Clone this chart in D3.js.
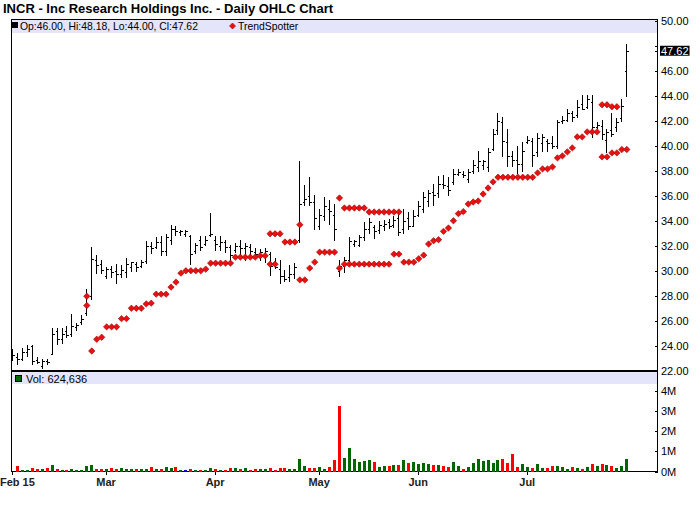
<!DOCTYPE html>
<html><head><meta charset="utf-8">
<script src="https://cdn.jsdelivr.net/npm/d3@7"></script>
<style>
body{margin:0;background:#fff;}
svg text{font-family:"Liberation Sans",Arial,Helvetica,sans-serif;}
</style></head>
<body><svg id="c" width="700" height="512"></svg>
<script>
// ---------- data ----------
const monthLabels = ["Feb 15","Mar","Apr","May","Jun","Jul"];
const monthIndex  = [0,19,41,62,82,104];
const priceTicks  = [22,24,26,28,30,32,34,36,38,40,42,44,46,48,50];
const volTicks    = [0,1,2,3,4];
const volTickLabels = ["0M","1M","2M","3M","4M"];

const opens = [23.36,23.10,23.00,23.50,24.00,22.90,22.40,22.80,23.40,25.20,
24.60,25.20,25.00,25.50,25.90,26.60,28.00,30.90,30.60,29.60,
30.20,30.00,29.80,29.90,30.30,30.60,30.40,30.80,32.00,31.90,
32.30,31.60,32.50,33.40,33.10,33.00,32.80,31.60,32.50,32.20,
32.90,32.50,32.00,32.30,31.90,31.70,32.00,31.80,31.90,31.50,
31.30,31.30,31.40,30.60,30.20,29.60,29.50,29.80,32.50,35.50,
36.00,35.50,33.60,34.40,35.00,34.50,30.00,30.40,30.90,32.20,
32.10,32.70,33.40,33.50,33.30,33.60,33.90,33.70,34.20,33.40,
34.20,33.60,34.50,35.00,35.60,36.30,36.20,37.00,36.80,37.10,
37.80,37.80,37.40,38.00,38.30,38.50,38.30,39.80,41.30,41.90,
40.30,39.20,38.90,38.60,40.30,40.40,39.50,40.20,40.40,40.20,
40.00,42.00,42.10,42.60,42.50,43.40,43.10,43.50,41.50,41.60,
40.50,41.30,41.50,42.20,46.00];
const highs = [23.74,23.42,23.82,24.08,24.08,23.10,22.93,23.00,25.42,25.42,
25.42,25.61,26.57,25.87,26.49,28.55,31.91,31.30,30.90,30.36,
30.42,30.58,30.50,31.03,30.76,30.76,30.90,32.37,32.29,32.71,
32.77,32.98,33.70,33.57,33.25,33.25,32.90,32.23,32.77,32.77,
34.64,32.77,32.82,32.50,32.10,32.24,32.45,32.24,32.16,31.84,
31.76,31.80,31.50,31.03,30.90,30.10,30.50,30.68,38.83,36.90,
37.50,36.10,34.96,35.90,35.65,35.39,30.90,31.10,32.72,32.45,
32.90,33.88,34.24,33.70,33.97,34.05,34.16,34.42,34.85,34.96,
34.69,34.85,35.57,36.30,36.50,36.99,37.57,37.71,37.53,38.19,
38.17,37.98,38.17,38.86,39.64,38.86,39.85,41.37,42.60,42.34,
41.37,39.58,39.98,40.30,40.78,40.65,41.05,40.92,40.52,40.78,
42.12,42.44,42.98,42.79,43.67,44.12,44.12,44.12,41.90,42.12,
41.32,42.60,42.26,43.78,48.18];
const lows = [22.88,22.53,22.88,23.20,22.53,22.62,22.21,22.56,23.36,24.16,
24.27,24.75,24.80,25.29,25.74,26.49,27.74,29.83,29.88,29.43,
29.56,29.08,29.56,29.51,30.04,30.04,30.36,30.63,31.43,31.83,
31.30,31.30,32.18,32.90,32.90,32.82,30.55,31.43,31.70,32.10,
32.77,31.70,31.70,31.56,30.76,31.56,31.30,30.90,31.16,31.03,
30.90,30.76,29.70,30.23,29.08,29.20,29.20,29.43,32.36,35.30,
35.30,33.36,33.36,34.10,33.78,32.50,29.62,29.96,30.50,31.96,
31.96,32.50,33.08,32.63,33.08,33.30,33.44,33.52,32.90,33.04,
33.36,33.57,34.42,34.69,35.23,35.27,35.92,36.65,36.05,36.99,
37.71,37.53,37.09,37.85,37.98,38.17,37.98,39.66,40.92,39.23,
38.43,38.38,37.85,37.98,40.20,38.43,39.18,39.58,39.58,39.85,
39.85,41.86,41.98,41.98,42.34,42.92,43.06,40.73,41.45,40.52,
39.50,40.78,41.18,41.98,44.00];
const closes = [23.28,22.95,23.50,23.80,22.80,22.75,22.80,22.70,25.00,24.60,
25.00,24.90,25.60,25.70,26.20,28.00,31.00,30.50,30.10,30.20,
29.90,29.80,30.10,30.60,30.70,30.30,30.70,32.00,31.80,32.30,
31.60,32.70,33.40,33.20,33.22,33.22,31.40,32.10,31.90,32.50,
33.00,32.20,32.30,31.90,31.30,32.00,31.80,32.00,31.60,31.40,
31.50,31.60,30.40,30.30,29.60,29.40,29.80,30.30,35.40,35.80,
35.50,34.20,34.50,35.20,34.80,33.40,30.40,30.90,32.40,32.42,
32.70,33.40,33.90,33.20,33.70,33.80,33.60,34.10,33.10,34.00,
33.60,34.40,35.20,35.90,36.20,36.10,37.00,36.90,36.50,37.80,
37.90,37.70,37.90,38.50,38.80,38.82,39.50,41.00,42.00,40.40,
39.20,38.90,38.60,39.60,40.50,39.30,40.60,40.70,40.20,40.00,
41.90,42.10,42.60,42.30,43.10,43.00,43.80,41.50,41.70,41.00,
41.10,41.00,41.90,43.20,47.62];
// volume in millions of shares
const volumeM = [0,.27,.07,.07,.17,.12,.12,.17,.32,.12,
.07,.07,.12,.07,.07,.27,.32,.12,.12,.12,
.17,.12,.17,.12,.12,.12,.12,.12,.22,.12,
.12,.22,.17,.22,.07,.07,.12,.07,.07,.07,
.17,.12,.07,.07,.17,.17,.12,.17,.07,.12,
.12,.12,.17,.07,.17,.17,.12,.12,.62,.27,
.17,.17,.22,.12,.22,.57,3.25,.67,1.17,.62,
.47,.52,.57,.47,.22,.27,.27,.32,.32,.57,
.42,.47,.37,.42,.37,.32,.32,.27,.22,.47,
.27,.12,.22,.42,.62,.52,.57,.42,.57,.62,
.42,.87,.22,.37,.22,.17,.37,.17,.17,.27,
.27,.22,.12,.22,.17,.12,.22,.37,.27,.37,
.32,.27,.17,.27,.624636];
// volume bar colour code: g = up, r = down, b = unchanged
const volDir = ("grggrrgrgr"+"grgggggrrg"+"rrgggrggrg"+"rggrgbrgrg"+"grgrrgrgrr"+
"ggrrrrgggg"+"rrggrrrggg"+"gggrggrgrg"+"rggggrgrrg"+"grgggggggr"+
"rrrggrggrr"+"gggrgrgrgr"+"grggg").split("");
// TrendSpotter dots (primary / secondary), null = none
const trendA = [null,null,null,null,null,null,null,null,null,null,
null,null,null,null,null,27.98,23.60,24.54,24.70,25.53,
25.53,25.53,26.19,26.19,27.02,27.02,27.02,27.37,27.43,28.15,
28.15,28.15,28.71,29.11,29.83,30.02,30.02,30.02,30.02,30.15,
30.63,30.63,30.63,30.63,30.63,31.11,31.11,31.11,31.11,31.11,
31.22,31.22,32.98,32.98,32.98,32.32,32.32,32.32,33.70,29.29,
30.23,30.71,31.51,31.51,31.51,31.51,35.84,35.04,35.04,35.04,
35.04,35.04,34.72,34.72,34.72,34.72,34.72,34.72,34.72,30.71,
30.71,30.71,30.98,31.27,32.16,32.42,32.50,33.17,33.44,34.02,
34.59,34.75,35.36,35.52,35.60,36.16,36.64,37.13,37.50,37.50,
37.50,37.50,37.50,37.50,37.50,37.50,37.85,38.17,38.17,38.33,
39.05,39.21,39.53,39.85,40.73,40.73,41.13,41.13,41.13,43.30,
43.30,43.14,43.14,39.72,39.72];
const trendB = [null,null,null,null,null,null,null,null,null,null,
null,null,null,null,null,27.24,null,null,null,null,
null,null,null,null,null,null,null,null,null,null,
null,null,null,null,null,null,null,null,null,null,
null,null,null,null,null,null,null,null,null,null,
null,null,30.55,30.55,null,null,null,null,29.29,null,
null,null,null,null,null,null,30.23,30.55,30.55,30.55,
30.55,30.55,30.55,30.55,30.55,30.55,30.55,31.35,31.35,null,
null,null,null,null,null,null,null,null,null,null,
null,null,null,null,null,null,null,null,null,null,
null,null,null,null,null,null,null,null,null,null,
null,null,null,null,null,null,null,null,null,39.13,
39.13,39.45,39.45,null,null];

const lastVolumeText = "624,636";

// ---------- layout ----------
const svg = d3.select("#c");
const L = 11.5, R = 657.5;
const mainTop = 20;
const volTop = 372, volBot = 471.5;
const n = closes.length;
const x = d3.scaleLinear().domain([0, n-1]).range([12, 626.3]);
const y = d3.scaleLinear().domain([22, 50]).range([371, 21]);
const yv = d3.scaleLinear().domain([0, 4]).range([471.5, 391.3]);
const px = v => Math.round(x(v)) + 0.5;
const py = v => Math.round(y(v)) + 0.5;
const fs = "10.4px";

svg.append("rect").attr("width",700).attr("height",512).attr("fill","#fff");

// title
svg.append("text").attr("x",3).attr("y",13)
  .attr("font-size","13px").attr("font-weight","bold").attr("fill","#000")
  .text("INCR - Inc Research Holdings Inc. - Daily OHLC Chart");

// legend bands
svg.append("rect").attr("x",L).attr("y",mainTop).attr("width",R-L).attr("height",13).attr("fill","#e4e4fa");
svg.append("rect").attr("x",L).attr("y",volTop).attr("width",R-L).attr("height",12).attr("fill","#e4e4fa");

// frame
const g = svg.append("g").attr("shape-rendering","crispEdges");
g.append("line").attr("x1",L).attr("x2",R).attr("y1",mainTop-0.5).attr("y2",mainTop-0.5).attr("stroke","#000");
g.append("line").attr("x1",L).attr("x2",L).attr("y1",mainTop-1).attr("y2",volBot).attr("stroke","#000");
g.append("line").attr("x1",R).attr("x2",R).attr("y1",mainTop-1).attr("y2",volBot).attr("stroke","#000");
g.append("line").attr("x1",L).attr("x2",R).attr("y1",371).attr("y2",371).attr("stroke","#000").attr("stroke-width",2);
g.append("line").attr("x1",L).attr("x2",R).attr("y1",volBot).attr("y2",volBot).attr("stroke","#000");

// legend contents
svg.append("rect").attr("x",12.5).attr("y",22.5).attr("width",5).attr("height",5).attr("fill","#000").attr("stroke","#000");
svg.append("text").attr("x",20).attr("y",30).attr("font-size",fs).attr("fill","#000")
  .text(`Op:${opens[n-1].toFixed(2)}, Hi:${highs[n-1].toFixed(2)}, Lo:${lows[n-1].toFixed(2)}, Cl:${closes[n-1].toFixed(2)}`);
const diamond = (cx, cy, r) => `M${cx},${cy-r}L${cx+r},${cy}L${cx},${cy+r}L${cx-r},${cy}Z`;
svg.append("path").attr("d",diamond(232.5,26,3)).attr("fill","#e81010").attr("stroke","#a00000").attr("stroke-width",0.6);
svg.append("text").attr("x",238).attr("y",30).attr("font-size",fs).attr("fill","#000").text("TrendSpotter");

svg.append("rect").attr("x",15.5).attr("y",375.5).attr("width",6).attr("height",6).attr("fill","#006400").attr("stroke","#000");
svg.append("text").attr("x",26).attr("y",383).attr("font-size","11px").attr("fill","#000")
  .text("Vol: " + lastVolumeText);

// right price axis
const ax = svg.append("g");
priceTicks.forEach(t => {
  ax.append("line").attr("x1",R-3).attr("x2",R).attr("y1",py(t)).attr("y2",py(t))
    .attr("stroke","#000").attr("shape-rendering","crispEdges");
  if (Math.abs(y(t) - y(closes[n-1])) > 9) {
    ax.append("text").attr("x",661).attr("y",y(t)+4).attr("font-size","11px").attr("fill","#000").text(t.toFixed(2));
  }
});
// current price tag
ax.append("line").attr("x1",R-3).attr("x2",R).attr("y1",py(closes[n-1])).attr("y2",py(closes[n-1])).attr("stroke","#000").attr("shape-rendering","crispEdges");
const tagRect = ax.append("rect").attr("fill","#000");
const tagText = ax.append("text").attr("x",661).attr("y",y(closes[n-1])+4).attr("font-size","11px").attr("fill","#fff").text(closes[n-1].toFixed(2));
const bb = tagText.node().getBBox();
tagRect.attr("x",bb.x-1).attr("y",y(closes[n-1])-5).attr("width",bb.width+2).attr("height",10);

// volume axis
volTicks.forEach((t,i) => {
  const yy = Math.round(yv(t)) + 0.5;
  ax.append("line").attr("x1",R-3).attr("x2",R).attr("y1",yy).attr("y2",yy).attr("stroke","#000").attr("shape-rendering","crispEdges");
  ax.append("text").attr("x",661).attr("y",yv(t)+4).attr("font-size","11px").attr("fill","#000").text(volTickLabels[i]);
});

// bottom month axis
monthIndex.forEach((m,i) => {
  ax.append("line").attr("x1",px(m)).attr("x2",px(m)).attr("y1",volBot).attr("y2",volBot+3)
    .attr("stroke","#000").attr("shape-rendering","crispEdges");
  const first = i === 0;
  ax.append("text").attr("x",first ? 0 : x(m)).attr("y",486).attr("text-anchor",first ? "start" : "middle")
    .attr("font-size","11px").attr("font-weight","bold").attr("fill","#222").text(monthLabels[i]);
});

// volume bars
const volColor = {g:"#006600", r:"#ff0000", b:"#0000cc"};
svg.append("g").attr("shape-rendering","crispEdges").selectAll("rect").data(volumeM).join("rect")
  .attr("x",(d,i)=>Math.round(x(i))-1).attr("width",3)
  .attr("y",d=>Math.round(yv(d))).attr("height",d=>Math.max(0, Math.round(yv(0))-Math.round(yv(d))))
  .attr("fill",(d,i)=>volColor[volDir[i]]);

// OHLC bars
const bars = svg.append("g").attr("shape-rendering","crispEdges").attr("stroke","#000");
d3.range(n).forEach(i => {
  const xx = px(i);
  bars.append("line").attr("x1",xx).attr("x2",xx).attr("y1",Math.round(y(highs[i]))).attr("y2",Math.round(y(lows[i]))+1);
  bars.append("line").attr("x1",xx-2).attr("x2",xx).attr("y1",py(opens[i])).attr("y2",py(opens[i]));
  bars.append("line").attr("x1",xx).attr("x2",xx+2).attr("y1",py(closes[i])).attr("y2",py(closes[i]));
});

// TrendSpotter dots
const dots = svg.append("g");
[trendA, trendB].forEach(arr => {
  arr.forEach((v,i) => {
    if (v == null) return;
    dots.append("path").attr("d", diamond(x(i)+0.5, y(v), 3.2))
      .attr("fill","#e81010").attr("stroke","#a00000").attr("stroke-width",0.6);
  });
});
</script></body></html>
